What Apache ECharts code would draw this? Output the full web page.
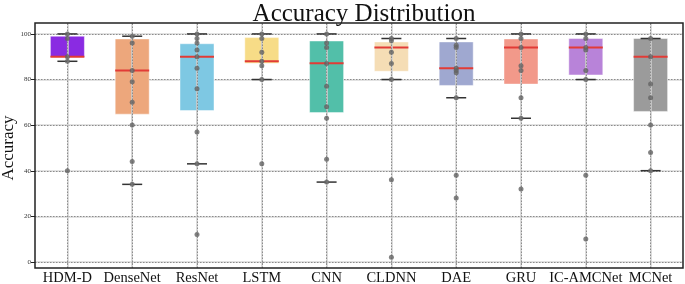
<!DOCTYPE html>
<html>
<head>
<meta charset="utf-8">
<script src="https://cdn.jsdelivr.net/npm/echarts@6/dist/echarts.min.js"></script>
<style>
  html, body { margin: 0; padding: 0; background: #fff; }
  #chart { width: 685px; height: 284px; }
</style>
</head>
<body>
<div id="chart"></div>
<script>
const models = ['HDM-D', 'DenseNet', 'ResNet', 'LSTM', 'CNN', 'CLDNN', 'DAE', 'GRU', 'IC-AMCNet', 'MCNet']
const boxColors = ['#8a2be2', '#eda77c', '#7ec8e3', '#f7dc87', '#52bfa9', '#f5ddb5', '#9fa8d0', '#f2998a', '#b883d9', '#9b9b9b']
// lower cap, q1, median, q3, upper cap
const boxStats = [
  [88, 90, 90, 99, 100],
  [34, 64.8, 84, 97.8, 99],
  [43, 66.4, 90, 95.7, 100],
  [80, 87.1, 88, 98.4, 100],
  [35, 65.5, 87.1, 96.9, 100],
  [80, 83.6, 94, 96.5, 98],
  [72, 77.4, 85, 96.5, 98],
  [63, 78, 94, 97.8, 100],
  [80, 82, 94, 98, 100],
  [40, 66, 90, 98, 98]
]
// individual runs per model
const points = [
  [100, 98, 90, 88, 40],
  [99, 96, 84, 79, 70, 60, 44, 34],
  [100, 98, 96, 93, 90, 85, 76, 57, 43, 12],
  [100, 98, 92, 88, 86, 80, 43],
  [100, 96, 94, 87, 77, 68, 63, 45, 35],
  [98, 97, 92, 87, 80, 36, 2],
  [98, 95, 94, 85, 84, 83, 72, 38, 28],
  [100, 98, 94, 86, 84, 72, 63, 32],
  [100, 98, 94, 93, 84, 80, 38, 10],
  [98, 90, 78, 72, 60, 48, 40]
]
// y extent of the frame around the 0..100 tick range
const yLo = -2.7
const yHi = 104.8

const chart = echarts.init(document.getElementById('chart'))

const boxData = boxStats.map((s, i) => [i].concat(s))
const pointData = []
points.forEach((arr, i) => arr.forEach(v => pointData.push([i, v])))

const font = 'Liberation Serif, Times New Roman, serif'

// vertical grid lines through every category
function vLines(style) {
  return {
    silent: true,
    symbol: 'none',
    label: { show: false },
    lineStyle: style,
    data: models.map(m => ({ xAxis: m }))
  }
}

const option = {
  animation: false,
  title: {
    text: 'Accuracy Distribution',
    left: 359,
    textAlign: 'center',
    top: -3,
    textStyle: { fontFamily: font, fontWeight: 'normal', fontSize: 25, color: '#111' }
  },
  // y axis title, placed by hand (v6 pushes axis names clear of the labels)
  graphic: [
    {
      type: 'text',
      x: 9,
      y: 148,
      rotation: Math.PI / 2,
      style: { text: 'Accuracy', fontFamily: font, fontSize: 17, fill: '#111', align: 'center', verticalAlign: 'middle' }
    }
  ],
  grid: [
    // frame + data
    { left: 35, right: 2, top: 23, bottom: 16, outerBoundsMode: 'none', show: true, borderColor: '#222', borderWidth: 1.5, backgroundColor: 'transparent', z: 10 },
    // tick area (0..100)
    { left: 35, right: 2, top: 34, bottom: 22, outerBoundsMode: 'none' }
  ],
  xAxis: [
    {
      gridIndex: 0,
      type: 'category',
      data: models,
      axisLine: { show: false },
      axisTick: { show: true, alignWithLabel: true, length: 3, lineStyle: { color: '#222' } },
      axisLabel: { fontFamily: font, fontSize: 14.5, color: '#111', margin: 3, interval: 0 },
      splitLine: { show: false }
    },
    { gridIndex: 1, type: 'value', show: false, min: 0, max: 1 }
  ],
  yAxis: [
    { gridIndex: 0, type: 'value', show: false, min: yLo, max: yHi },
    {
      gridIndex: 1,
      type: 'value',
      min: 0,
      max: 100,
      interval: 20,
      axisLine: { show: false },
      axisTick: { show: true, length: 4, lineStyle: { color: '#222' } },
      axisLabel: { fontFamily: font, fontSize: 7, color: '#333', margin: 4 },
      splitLine: { show: true, lineStyle: { color: '#d8d8d8', width: 1.5 } }
    },
    {
      gridIndex: 1,
      type: 'value',
      min: 0,
      max: 100,
      interval: 20,
      position: 'left',
      axisLine: { show: false },
      axisTick: { show: false },
      axisLabel: { show: false },
      splitLine: { show: true, lineStyle: { color: '#8c8c8c', width: 1, type: [1.5, 1.5] } }
    }
  ],
  series: [
    {
      type: 'custom',
      xAxisIndex: 0,
      yAxisIndex: 0,
      z: 3,
      data: boxData,
      markLine: vLines({ color: '#d0d0d0', width: 1.5, type: 'solid' }),
      renderItem: function (params, api) {
        const i = api.value(0)
        const low = api.coord([i, api.value(1)])
        const q1 = api.coord([i, api.value(2)])
        const med = api.coord([i, api.value(3)])
        const q3 = api.coord([i, api.value(4)])
        const high = api.coord([i, api.value(5)])
        const x = low[0]
        const half = 17
        const cap = 10
        return {
          type: 'group',
          children: [
            {
              type: 'rect',
              shape: { x: x - half, y: q3[1], width: half * 2, height: q1[1] - q3[1] },
              style: { fill: boxColors[i], stroke: 'rgba(255,255,255,0.45)', lineWidth: 1 }
            },
            {
              type: 'line',
              shape: { x1: x, y1: low[1], x2: x, y2: high[1] },
              style: { stroke: 'rgba(150,150,150,0.6)', lineWidth: 1.2 }
            },
            {
              type: 'line',
              shape: { x1: x - half, y1: med[1], x2: x + half, y2: med[1] },
              style: { stroke: '#e23b36', lineWidth: 2 }
            },
            {
              type: 'line',
              shape: { x1: x - cap, y1: low[1], x2: x + cap, y2: low[1] },
              style: { stroke: '#333', lineWidth: 1.5 }
            },
            {
              type: 'line',
              shape: { x1: x - cap, y1: high[1], x2: x + cap, y2: high[1] },
              style: { stroke: '#333', lineWidth: 1.5 }
            }
          ]
        }
      }
    },
    {
      type: 'scatter',
      xAxisIndex: 0,
      yAxisIndex: 0,
      z: 5,
      symbolSize: 5,
      itemStyle: { color: '#636363' },
      data: pointData,
      markLine: vLines({ color: '#8c8c8c', width: 1, type: [1.5, 1.5] })
    }
  ]
}

chart.setOption(option)
</script>
</body>
</html>
